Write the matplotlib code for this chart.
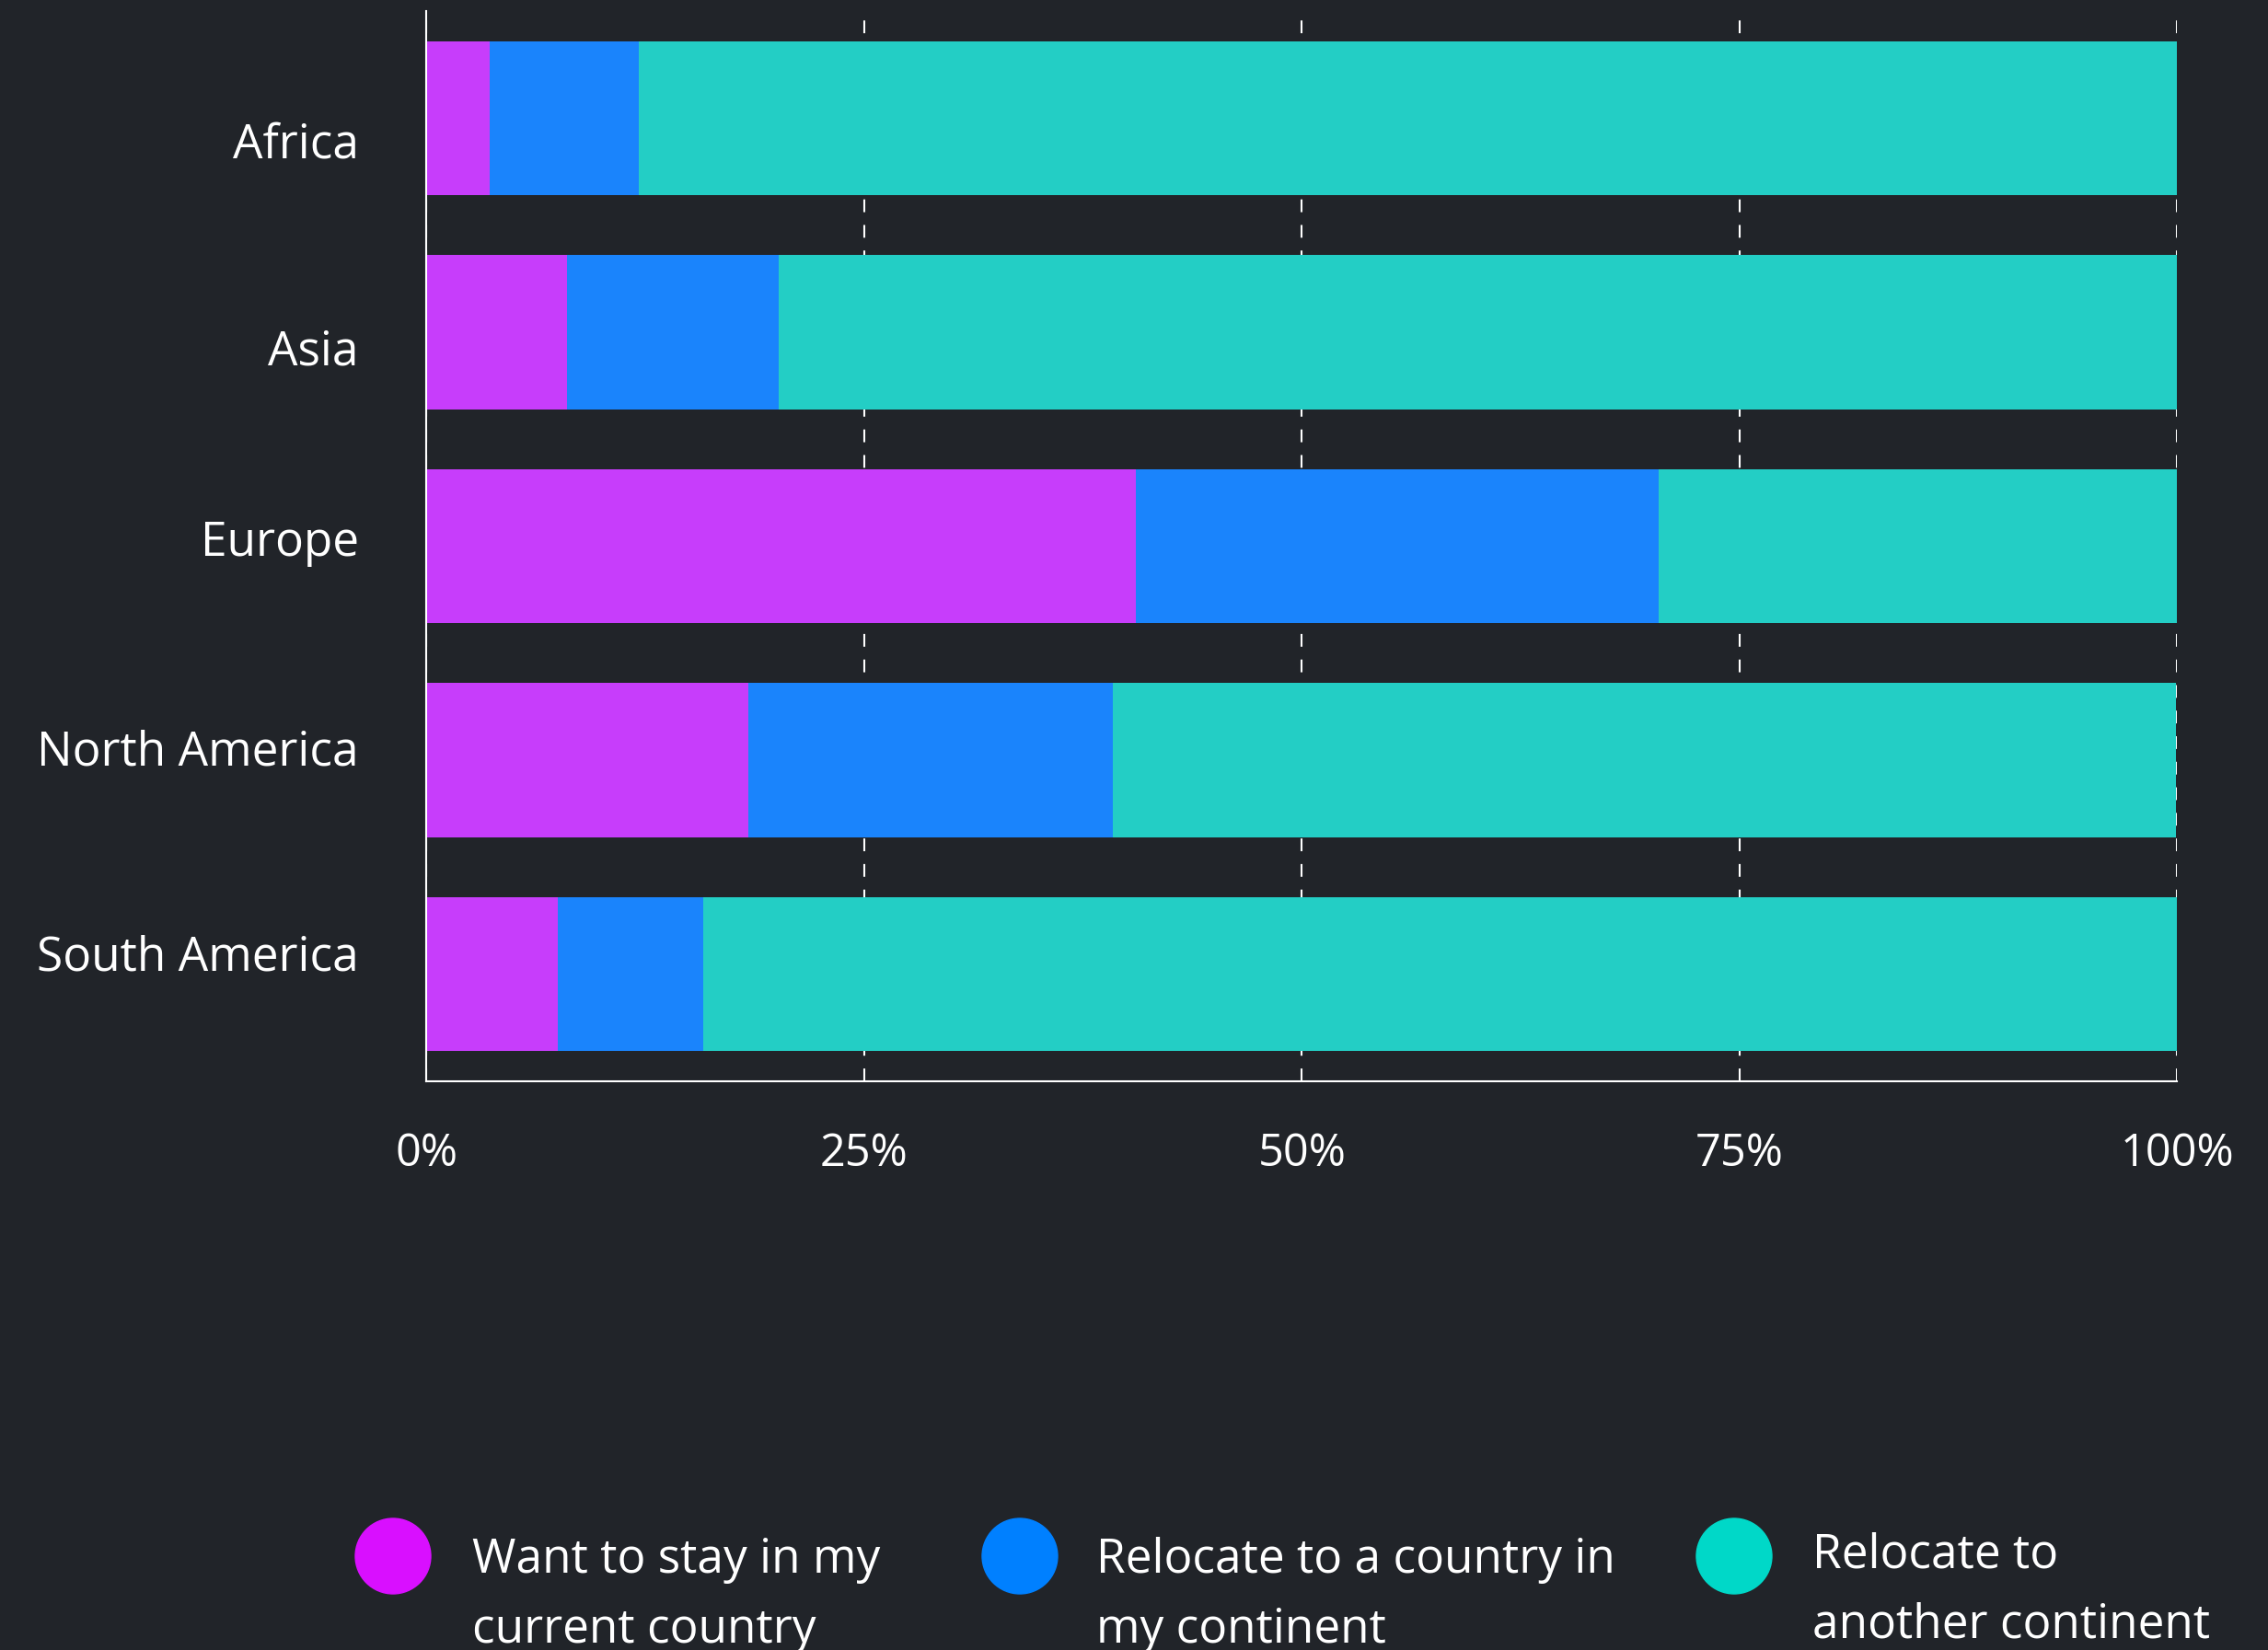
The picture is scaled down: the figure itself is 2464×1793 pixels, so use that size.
"""Stacked horizontal bars: where respondents want to live, by continent."""

import matplotlib.pyplot as plt
from matplotlib.patches import Ellipse
import numpy as np

regions = ["Africa", "Asia", "Europe", "North America", "South America"]
stay_home = [3.6, 8.0, 40.5, 18.4, 7.5]
same_continent = [8.5, 12.1, 29.9, 20.8, 8.3]
other_continent = [87.9, 79.9, 29.6, 60.7, 84.2]
series_labels = ["Want to stay in my\ncurrent country",
                 "Relocate to a country in\nmy continent",
                 "Relocate to\nanother continent"]
x_ticks = [0, 25, 50, 75, 100]
x_tick_labels = ["0%", "25%", "50%", "75%", "100%"]

BG = "#212429"
BAR_COLORS = ["#c73dfb", "#1a84fc", "#23cec5"]
DOT_COLORS = ["#d90fff", "#0080ff", "#00d8c8"]
# the region labels sit a little off the bar centres in the original
LABEL_POS = [0.10, 1.07, 1.96, 2.94, 3.90]

plt.rcParams["font.family"] = ["Open Sans", "DejaVu Sans"]
plt.rcParams["lines.scale_dashes"] = False

W, H = 2464, 1793
fig = plt.figure(figsize=(W / 100, H / 100), dpi=100, facecolor=BG)
ax = fig.add_axes([0.1881, 0.3447, 0.7719, 0.6486], facecolor=BG)

y = np.arange(len(regions))
left = np.zeros(len(regions))
for vals, color in zip((stay_home, same_continent, other_continent), BAR_COLORS):
    ax.barh(y, vals, left=left, height=0.72, color=color, zorder=2)
    left += np.array(vals)

ax.set_xlim(0, 100)
ax.set_ylim(4.5, -0.5)
ax.set_xticks(x_ticks)
ax.set_xticklabels(x_tick_labels)
ax.set_yticks(LABEL_POS)
ax.set_yticklabels(regions)
ax.tick_params(axis="y", length=0, pad=53, labelsize=37, labelcolor="white")
ax.tick_params(axis="x", length=0, pad=39, labelsize=35, labelcolor="white")

ax.grid(axis="x", color="white", lw=1.5, linestyle=(0, (10, 10)), zorder=1)
ax.grid(axis="y", visible=False)
ax.set_axisbelow(True)
for side in ("top", "right"):
    ax.spines[side].set_visible(False)
for side in ("left", "bottom"):
    ax.spines[side].set_color("white")
    ax.spines[side].set_linewidth(1.5)

# ---- legend, laid out by hand: dot + two-line label ----
dot_x = [427, 1108, 1884]
text_x = [513, 1191, 1969]
last_baseline = [1785, 1785, 1779]
for dx, tx, by, lbl, c in zip(dot_x, text_x, last_baseline, series_labels, DOT_COLORS):
    fig.patches.append(Ellipse((dx / W, 1 - 1691 / H), 82 / W, 82 / H,
                               transform=fig.transFigure, color=c))
    fig.text(tx / W, 1 - by / H, lbl, color="white", fontsize=37,
             va="baseline", ha="left", linespacing=1.64)

fig.savefig("out.png", dpi=100, facecolor=BG)
